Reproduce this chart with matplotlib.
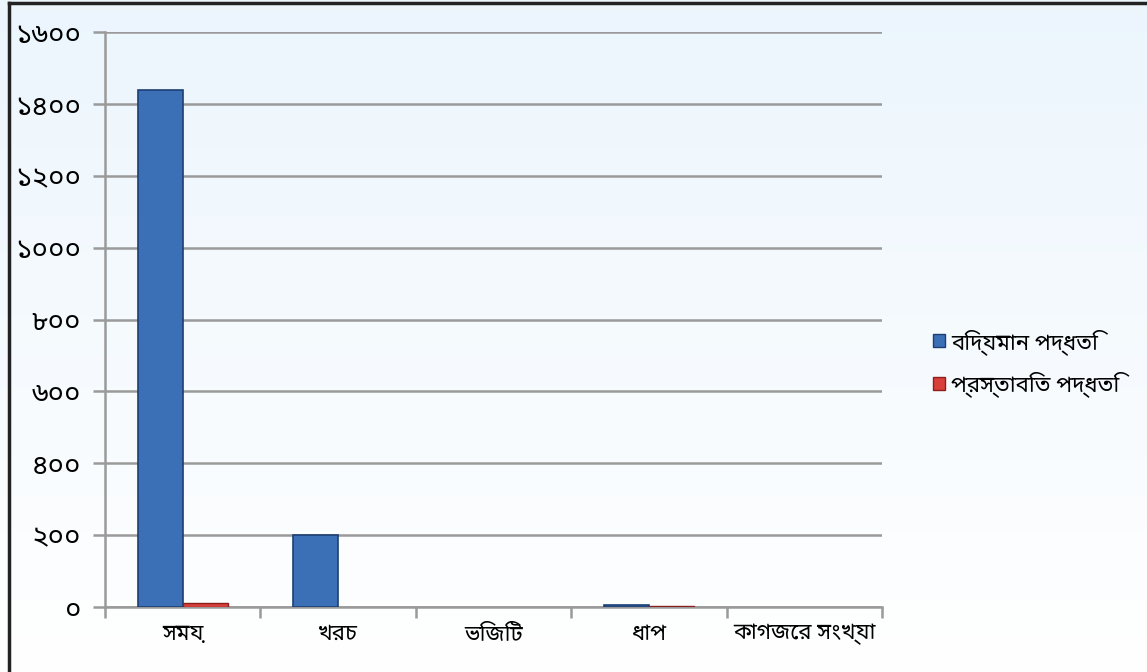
import matplotlib
matplotlib.use("Agg")
import matplotlib.pyplot as plt
from matplotlib.patches import Patch
import numpy as np

plt.rcParams['font.family'] = ['Noto Sans Bengali', 'Hind Siliguri', 'DejaVu Sans']

categories = ['সময়', 'খরচ', 'ভিজিট', 'ধাপ', 'কাগজের সংখ্যা']
existing = [1440, 200, 0, 7, 0]
proposed = [11, 0, 0, 3, 0]
series_names = ['বিদ্যমান পদ্ধতি', 'প্রস্তাবিত পদ্ধতি']
y_ticks = [0, 200, 400, 600, 800, 1000, 1200, 1400, 1600]
y_labels = ['০', '২০০', '৪০০', '৬০০', '৮০০', '১০০০', '১২০০', '১৪০০', '১৬০০']

blue = '#3b6fb6'
blue_edge = '#1d3f73'
red = '#d9403c'
red_edge = '#8c1f1c'
grid = '#9a9a9a'

fig = plt.figure(figsize=(11.47, 6.72), dpi=100)

# background gradient, light blue at top fading to white
bg = fig.add_axes([0, 0, 1, 1], zorder=-10)
grad = np.linspace(0, 1, 256).reshape(-1, 1)
top = np.array([0.925, 0.963, 0.992])
bot = np.array([1.0, 1.0, 1.0])
img = top[None, None, :] * (1 - grad[:, :, None]) + bot[None, None, :] * grad[:, :, None]
bg.imshow(img, aspect='auto', extent=[0, 1, 0, 1])
bg.plot([0.0075, 0.0075], [0, 0.996], color='#222222', lw=2.5, transform=bg.transAxes)
bg.plot([0.0075, 1], [0.996, 0.996], color='#222222', lw=2.5, transform=bg.transAxes)
bg.set_xlim(0, 1)
bg.set_ylim(0, 1)
bg.axis('off')

ax = fig.add_axes([0.0915, 0.0967, 0.6775, 0.8553])
ax.patch.set_alpha(0)

x = np.arange(len(categories))
w = 0.29
ax.bar(x - w / 2, existing, w, color=blue, edgecolor=blue_edge,
       linewidth=[1.2 if v > 0 else 0 for v in existing], zorder=3)
ax.bar(x + w / 2, proposed, w, color=red, edgecolor=red_edge,
       linewidth=[1.0 if v > 0 else 0 for v in proposed], zorder=3)

ax.set_xlim(-0.5, len(categories) - 0.5)
ax.set_ylim(0, 1600)
ax.set_yticks(y_ticks)
ax.set_yticklabels(y_labels, fontsize=20)
ax.yaxis.grid(True, color=grid, lw=1.8, zorder=1)
ax.set_axisbelow(True)

ax.set_xticks(x)
ax.set_xticklabels(categories, fontsize=16)
ax.set_xticks(np.arange(len(categories) + 1) - 0.5, minor=True)
ax.tick_params(axis='x', which='major', length=0, pad=12)
ax.tick_params(axis='x', which='minor', length=8, width=1.8, color=grid, direction='out')
ax.tick_params(axis='y', length=9, width=1.8, color=grid, direction='out', pad=8)

for s in ['top', 'right']:
    ax.spines[s].set_visible(False)
for s in ['left', 'bottom']:
    ax.spines[s].set_color(grid)
    ax.spines[s].set_linewidth(1.8)

handles = [Patch(facecolor=blue, edgecolor=blue_edge, label=series_names[0]),
           Patch(facecolor=red, edgecolor=red_edge, label=series_names[1])]
fig.legend(handles=handles, loc='center left', bbox_to_anchor=(0.796, 0.46),
           frameon=False, fontsize=16, handlelength=0.55, handleheight=0.55,
           handletextpad=0.25, labelspacing=0.75)

fig.savefig('out.png', dpi=100)
